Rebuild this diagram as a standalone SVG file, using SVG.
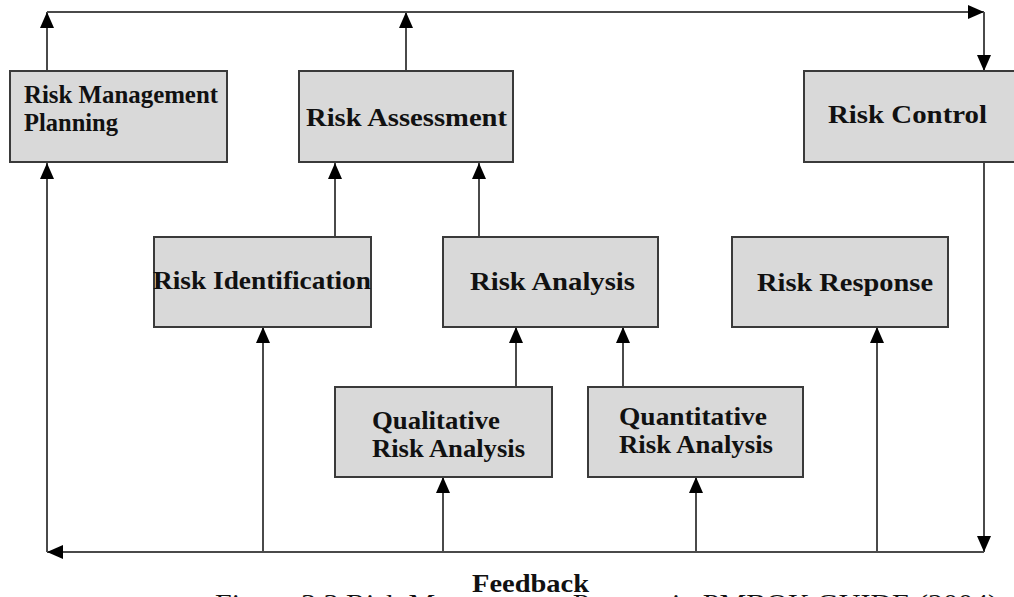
<svg xmlns="http://www.w3.org/2000/svg" width="1014" height="597" viewBox="0 0 1014 597">
  <style>
    .box { fill: #d9d9d9; stroke: #3a3a3a; stroke-width: 2; }
    .lbl { font-family: "Liberation Serif", "Times New Roman", serif; font-weight: bold; fill: #111; font-size: 26px; }
    .conn { fill: none; stroke: #4a4a4a; stroke-width: 2; marker-end: url(#arrow); }
    .cap { font-family: "Liberation Serif", "Times New Roman", serif; fill: #111; font-size: 26px; }
  </style>
  <defs>
    <marker id="arrow" markerUnits="userSpaceOnUse" markerWidth="16" markerHeight="14" refX="16" refY="7" orient="auto">
      <path d="M0,0 L16,7 L0,14 z" fill="#000"/>
    </marker>
  </defs>
  <rect width="1014" height="597" fill="#fff"/>

  <!-- connectors -->
  <g id="connectors">
    <path class="conn" d="M47,71 V12"/>
    <path class="conn" d="M406,71 V12"/>
    <path class="conn" d="M47,12 H984"/>
    <path class="conn" d="M984,12 V71"/>
    <path class="conn" d="M984,162 V552"/>
    <path class="conn" d="M984,552 H47"/>
    <path class="conn" d="M47,552 V163"/>
    <path class="conn" d="M263,552 V327"/>
    <path class="conn" d="M443,552 V477"/>
    <path class="conn" d="M696,552 V477"/>
    <path class="conn" d="M877,552 V327"/>
    <path class="conn" d="M335,237 V163"/>
    <path class="conn" d="M479,237 V163"/>
    <path class="conn" d="M516,387 V327"/>
    <path class="conn" d="M623,387 V327"/>
  </g>

  <!-- process steps -->
  <g id="risk-management-planning">
    <rect class="box" x="10" y="71" width="217" height="91"/>
    <text class="lbl" x="24" y="103" font-size="24" textLength="194" lengthAdjust="spacingAndGlyphs">Risk Management</text>
    <text class="lbl" x="24" y="131" font-size="24" textLength="94" lengthAdjust="spacingAndGlyphs">Planning</text>
  </g>
  <g id="risk-assessment">
    <rect class="box" x="299" y="71" width="214" height="91"/>
    <text class="lbl" x="306" y="126" textLength="201" lengthAdjust="spacingAndGlyphs">Risk Assessment</text>
  </g>
  <g id="risk-control">
    <rect class="box" x="804" y="71" width="220" height="91"/>
    <text class="lbl" x="828" y="123" textLength="159" lengthAdjust="spacingAndGlyphs">Risk Control</text>
  </g>
  <g id="risk-identification">
    <rect class="box" x="154" y="237" width="217" height="90"/>
    <text class="lbl" x="153" y="289" textLength="218" lengthAdjust="spacingAndGlyphs">Risk Identification</text>
  </g>
  <g id="risk-analysis">
    <rect class="box" x="443" y="237" width="215" height="90"/>
    <text class="lbl" x="470" y="290" textLength="165" lengthAdjust="spacingAndGlyphs">Risk Analysis</text>
  </g>
  <g id="risk-response">
    <rect class="box" x="732" y="237" width="216" height="90"/>
    <text class="lbl" x="757" y="291" textLength="176" lengthAdjust="spacingAndGlyphs">Risk Response</text>
  </g>
  <g id="qualitative-risk-analysis">
    <rect class="box" x="335" y="387" width="217" height="90"/>
    <text class="lbl" x="372" y="429" font-size="25" textLength="128" lengthAdjust="spacingAndGlyphs">Qualitative</text>
    <text class="lbl" x="372" y="457" font-size="25" textLength="153" lengthAdjust="spacingAndGlyphs">Risk Analysis</text>
  </g>
  <g id="quantitative-risk-analysis">
    <rect class="box" x="588" y="387" width="215" height="90"/>
    <text class="lbl" x="619" y="425" font-size="25" textLength="148" lengthAdjust="spacingAndGlyphs">Quantitative</text>
    <text class="lbl" x="619" y="453" font-size="25" textLength="154" lengthAdjust="spacingAndGlyphs">Risk Analysis</text>
  </g>

  <!-- loop label and caption -->
  <text class="lbl" x="472" y="592" textLength="117" lengthAdjust="spacingAndGlyphs">Feedback</text>
  <text class="cap" x="215" y="612" textLength="783" lengthAdjust="spacingAndGlyphs">Figure 3.3 Risk Management Process in PMBOK GUIDE (2004)</text>
</svg>
